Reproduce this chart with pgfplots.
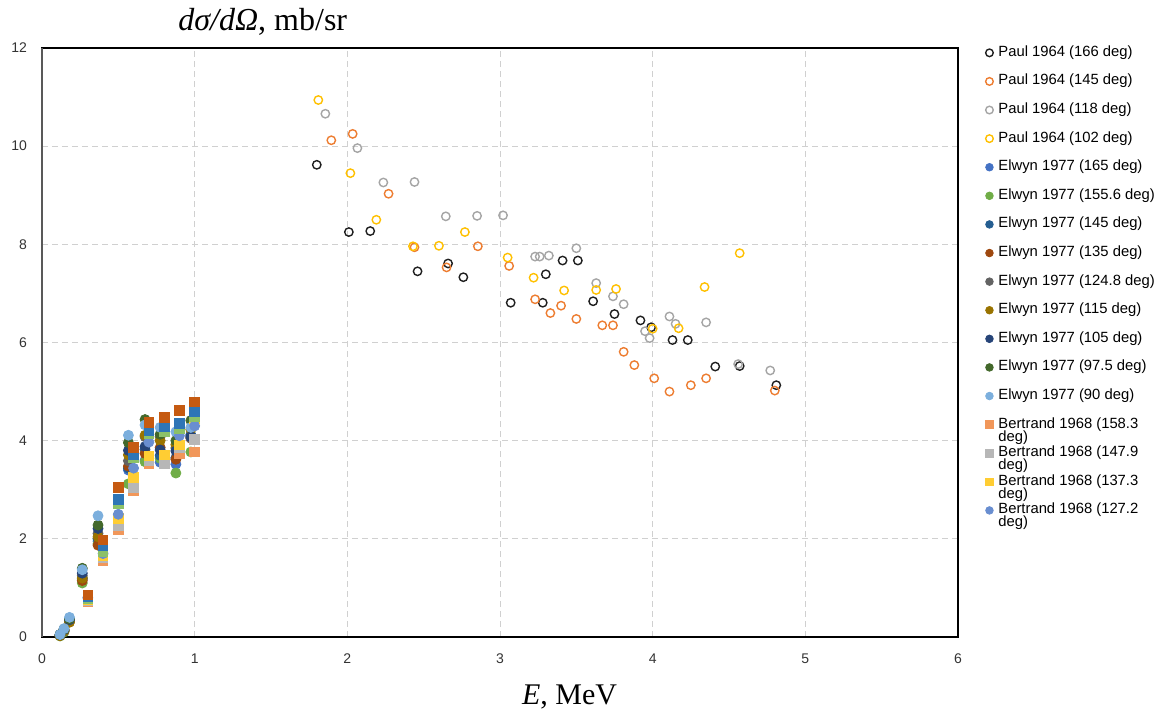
\documentclass[border=0pt]{standalone}
\usepackage{fontspec}
\setmainfont{Liberation Serif}
\setsansfont{Liberation Sans}
\usepackage{pgfplots}
\pgfplotsset{compat=1.18}

\definecolor{pA}{HTML}{1F1F1F}
\definecolor{pB}{HTML}{ED7D31}
\definecolor{pC}{HTML}{A5A5A5}
\definecolor{pD}{HTML}{FFC000}
\definecolor{eA}{HTML}{4472C4}
\definecolor{eB}{HTML}{70AD47}
\definecolor{eC}{HTML}{255E91}
\definecolor{eD}{HTML}{9E480E}
\definecolor{eE}{HTML}{636363}
\definecolor{eF}{HTML}{997300}
\definecolor{eG}{HTML}{264478}
\definecolor{eH}{HTML}{43682B}
\definecolor{eI}{HTML}{7CAFDD}
\definecolor{bA}{HTML}{F1975A}
\definecolor{bB}{HTML}{B7B7B7}
\definecolor{bC}{HTML}{FFCD33}
\definecolor{bD}{HTML}{698ED0}
\definecolor{bE}{HTML}{8CC168}
\definecolor{bF}{HTML}{2E75B6}
\definecolor{bG}{HTML}{C55A11}
\definecolor{gridc}{HTML}{D0D0D0}

\pgfplotsset{
  paul/.style={only marks, mark=o, mark size=2.1pt, mark options={line width=0.7pt, draw=#1}},
  elwyn/.style={only marks, mark=*, mark size=2.5pt, mark options={draw=#1, fill=#1}},
  bert/.style={only marks, mark=square*, mark size=2.4pt, mark options={draw=#1, fill=#1}},
}
\newcommand{\twoline}[2]{\smash{\begin{tabular}[t]{@{}l@{}}#1\\[-1.5pt]#2\end{tabular}}}

\begin{document}
\begin{tikzpicture}
\begin{axis}[
    at={(0,0)}, anchor=south west,
    scale only axis,
    width=458pt, height=294.5pt,
    xmin=0, xmax=6, ymin=0, ymax=12,
    xtick={0,1,...,6}, ytick={0,2,...,12},
    major tick length=0pt,
    grid=major,
    major grid style={gridc, dashed, line width=0.5pt, dash pattern=on 3pt off 2pt},
    axis line style={black, line width=0.8pt},
    ticklabel style={font=\sffamily\fontsize{7}{8}\selectfont, text=black!80},
    /pgf/number format/assume math mode=true,
    xticklabel style={yshift=-5pt},
    yticklabel style={xshift=-4pt},
    clip=false,
    legend style={draw=none, fill=none, at={(axis description cs:1.023,1.012)}, anchor=north west,
      font=\sffamily\fontsize{7.4}{8}\selectfont, row sep=6.8pt,
      nodes={inner sep=0.5pt, text height=5pt, text depth=1.5pt},
      /tikz/every even column/.style={column sep=0pt}},
    legend cell align=left,
    legend image code/.code={\path[draw=none, fill=none] (0pt,0pt) rectangle (6pt,0pt);
      \draw[#1, mark size=1.9pt] plot[only marks] coordinates {(2pt,0pt)};},
]
% Paul 1964
\addplot[paul=pA] coordinates {(1.80,9.62) (2.01,8.25) (2.15,8.27) (2.46,7.45) (2.66,7.61) (2.76,7.33) (3.07,6.81) (3.28,6.81) (3.30,7.39) (3.41,7.67) (3.51,7.67) (3.61,6.84) (3.75,6.58) (3.92,6.45) (3.99,6.31) (4.13,6.05) (4.23,6.05) (4.41,5.51) (4.57,5.52) (4.81,5.13)};
\addlegendentry{Paul 1964 (166 deg)}
\addplot[paul=pB] coordinates {(1.895,10.12) (2.035,10.25) (2.27,9.03) (2.44,7.94) (2.65,7.53) (2.855,7.96) (3.06,7.56) (3.23,6.88) (3.33,6.60) (3.40,6.75) (3.50,6.48) (3.67,6.35) (3.74,6.35) (3.81,5.81) (3.88,5.54) (4.01,5.27) (4.11,5.00) (4.25,5.13) (4.35,5.27) (4.80,5.02)};
\addlegendentry{Paul 1964 (145 deg)}
\addplot[paul=pC] coordinates {(1.856,10.66) (2.066,9.96) (2.236,9.26) (2.44,9.27) (2.645,8.57) (2.85,8.58) (3.02,8.59) (3.23,7.75) (3.26,7.75) (3.32,7.77) (3.50,7.92) (3.63,7.21) (3.74,6.94) (3.81,6.78) (3.95,6.23) (3.98,6.09) (4.11,6.53) (4.15,6.38) (4.35,6.41) (4.56,5.56) (4.77,5.43)};
\addlegendentry{Paul 1964 (118 deg)}
\addplot[paul=pD] coordinates {(1.81,10.94) (2.02,9.45) (2.19,8.50) (2.43,7.96) (2.60,7.97) (2.77,8.25) (3.05,7.73) (3.22,7.32) (3.42,7.06) (3.63,7.07) (3.76,7.09) (4.00,6.28) (4.17,6.29) (4.34,7.13) (4.57,7.82)};
\addlegendentry{Paul 1964 (102 deg)}
% Elwyn 1977
\addplot[elwyn=eA] coordinates {(0.118,0.03) (0.144,0.12) (0.18,0.33) (0.264,1.18) (0.367,1.95) (0.566,3.40) (0.675,3.60) (0.774,3.56) (0.877,3.52) (0.975,4.10)};
\addlegendentry{Elwyn 1977 (165 deg)}
\addplot[elwyn=eB] coordinates {(0.118,0.02) (0.144,0.10) (0.18,0.32) (0.264,1.10) (0.367,1.90) (0.566,3.12) (0.675,3.57) (0.774,3.64) (0.877,3.34) (0.975,3.77)};
\addlegendentry{Elwyn 1977 (155.6 deg)}
\addplot[elwyn=eC] coordinates {(0.118,0.04) (0.144,0.13) (0.18,0.34) (0.264,1.20) (0.367,2.00) (0.566,3.44) (0.675,3.82) (0.774,3.70) (0.877,3.65) (0.975,4.12)};
\addlegendentry{Elwyn 1977 (145 deg)}
\addplot[elwyn=eD] coordinates {(0.118,0.03) (0.144,0.12) (0.18,0.31) (0.264,1.15) (0.367,1.87) (0.566,3.48) (0.675,3.74) (0.774,3.86) (0.877,3.62) (0.975,4.05)};
\addlegendentry{Elwyn 1977 (135 deg)}
\addplot[elwyn=eE] coordinates {(0.118,0.04) (0.144,0.14) (0.18,0.33) (0.264,1.25) (0.367,2.11) (0.566,3.59) (0.675,4.08) (0.774,4.08) (0.877,3.85) (0.975,4.06)};
\addlegendentry{Elwyn 1977 (124.8 deg)}
\addplot[elwyn=eF] coordinates {(0.118,0.03) (0.144,0.13) (0.18,0.30) (0.264,1.20) (0.367,2.04) (0.566,3.71) (0.675,4.11) (0.774,4.00) (0.877,3.92) (0.975,4.23)};
\addlegendentry{Elwyn 1977 (115 deg)}
\addplot[elwyn=eG] coordinates {(0.118,0.05) (0.144,0.15) (0.18,0.35) (0.264,1.30) (0.367,2.21) (0.566,3.80) (0.675,3.88) (0.774,3.81) (0.877,3.79) (0.975,4.08)};
\addlegendentry{Elwyn 1977 (105 deg)}
\addplot[elwyn=eH] coordinates {(0.118,0.05) (0.144,0.16) (0.18,0.37) (0.264,1.40) (0.367,2.28) (0.566,3.96) (0.675,4.43) (0.774,4.13) (0.877,4.00) (0.975,4.41)};
\addlegendentry{Elwyn 1977 (97.5 deg)}
\addplot[elwyn=eI] coordinates {(0.118,0.05) (0.144,0.17) (0.18,0.40) (0.264,1.37) (0.367,2.47) (0.566,4.11) (0.675,4.32) (0.774,4.27) (0.877,4.18) (0.975,4.27)};
\addlegendentry{Elwyn 1977 (90 deg)}
% Bertrand 1968
\addplot[bert=bA] coordinates {(0.3,0.72) (0.4,1.55) (0.5,2.18) (0.6,2.98) (0.7,3.54) (0.8,3.58) (0.9,3.74) (1.0,3.77)};
\addlegendentry{\twoline{Bertrand 1968 (158.3}{deg)}}
\addplot[bert=bB] coordinates {(0.3,0.75) (0.4,1.62) (0.5,2.27) (0.6,3.05) (0.7,3.60) (0.8,3.54) (0.9,3.85) (1.0,4.03)};
\addlegendentry{\twoline{Bertrand 1968 (147.9}{deg)}}
\addplot[bert=bC] coordinates {(0.3,0.77) (0.4,1.65) (0.5,2.42) (0.6,3.25) (0.7,3.69) (0.8,3.71) (0.9,3.91) (1.0,4.44)};
\addlegendentry{\twoline{Bertrand 1968 (137.3}{deg)}}
\addplot[elwyn=bD] coordinates {(0.3,0.80) (0.4,1.70) (0.5,2.50) (0.6,3.44) (0.7,3.97) (0.8,4.22) (0.9,4.10) (1.0,4.30)};
\addlegendentry{\twoline{Bertrand 1968 (127.2}{deg)}}
\addplot[bert=bE, forget plot] coordinates {(0.3,0.79) (0.4,1.74) (0.5,2.72) (0.6,3.65) (0.7,4.15) (0.8,4.18) (0.9,4.25) (1.0,4.50)};
\addplot[bert=bF, forget plot] coordinates {(0.3,0.82) (0.4,1.86) (0.5,2.80) (0.6,3.71) (0.7,4.20) (0.8,4.28) (0.9,4.35) (1.0,4.60)};
\addplot[bert=bG, forget plot] coordinates {(0.3,0.86) (0.4,1.98) (0.5,3.05) (0.6,3.86) (0.7,4.37) (0.8,4.47) (0.9,4.62) (1.0,4.79)};
\draw[line width=1.1pt, black!65] (rel axis cs:0,0) -- (rel axis cs:0,1);
\node[font=\fontsize{16}{18}\selectfont, anchor=center] at (axis description cs:0.241,1.045) {\textit{dσ/dΩ}, mb/sr};
\node[font=\fontsize{15}{17}\selectfont, anchor=center] at (axis description cs:0.576,-0.102) {\textit{E}, MeV};
\end{axis}
\pgfresetboundingbox
\path (-21pt,-39.5pt) rectangle (561.5pt,318.5pt);
\end{tikzpicture}
\end{document}
